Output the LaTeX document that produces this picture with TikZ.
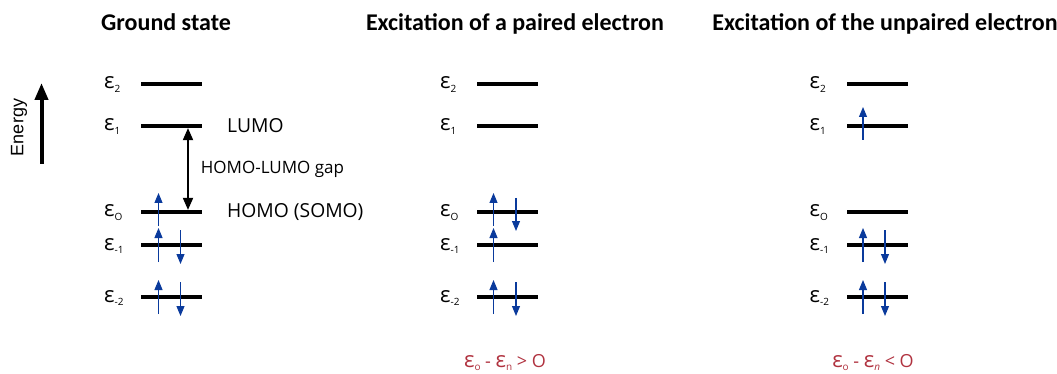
\documentclass[tikz,border=0pt]{standalone}
\usepackage{fontspec}
\setmainfont{Open Sans}
\newfontfamily\titlefont{Carlito}
\newfontfamily\axisfont{Liberation Sans}
\usetikzlibrary{arrows.meta}
\definecolor{spin-blue}{HTML}{0A3A9C}
\definecolor{gap-red}{HTML}{B0323F}
\newcommand{\eplabel}[1]{{\fontsize{22}{22}\selectfont ε}\raisebox{-3.5pt}{\fontsize{10}{10}\selectfont #1}}

\begin{document}
\begin{tikzpicture}[x=1pt, y=-1pt,
      every node/.style={inner sep=0pt},
      level/.style={fill=black, minimum width=61pt, minimum height=3.8pt},
      eps/.style={anchor=base west},
      title/.style={anchor=base, font=\titlefont\bfseries\fontsize{24}{24}\selectfont},
      spinup/.style={spin-blue, line width=1.1pt,
          -{Triangle[width=8pt,length=10pt]}},
      spindown/.style={spinup}]
    \useasboundingbox (0,0) rectangle (1057,374);

    % titles
    \node[title] (T1) at (166,31) {Ground state};
    \node[title] (T2) at (515,31) {Excitation of a paired electron};
    \node[title] (T3) at (885,31) {Excitation of the unpaired electron};

    % energy axis
    \coordinate (Elo) at (41.5,164);
    \coordinate (Ehi) at (41.5,83);
    \draw[line width=4pt, -{Triangle[width=13pt,length=17pt]}] (Elo) -- (Ehi);
    \node[rotate=90, font=\axisfont\fontsize{18}{18}\selectfont] (Elab) at (19,127.5) {Energy};

    % levels of the three panels
    \foreach \p/\cx in {a/171.5, b/507.5, c/877} {
      \foreach \n/\y/\s in {2/84/2, 1/126/1, 0/212/O, m1/245/-1, m2/297/-2} {
        \node[level] (\p\n) at (\cx,\y) {};
        \node[eps] (\p\n-lab) at (\cx-67.5,\y+5) {\eplabel{\s}};
      }
    }

    % ground state
    \draw[spinup] ([xshift=-13pt,yshift=-14pt]a0.center) -- ++(0,-33);
    \draw[spinup] ([xshift=-13pt,yshift=-17pt]am1.center) -- ++(0,-34);
    \draw[spindown] ([xshift=9pt,yshift=15pt]am1.center) -- ++(0,34);
    \draw[spinup] ([xshift=-13pt,yshift=-17pt]am2.center) -- ++(0,-34);
    \draw[spindown] ([xshift=9pt,yshift=15pt]am2.center) -- ++(0,34);

    \draw[line width=1.8pt, {Triangle[width=10pt,length=12pt]}-{Triangle[width=10pt,length=12pt]}]
          (a1.south -| 188,0) -- (a0.north -| 188,0)
          node[midway, right=12pt, font=\fontsize{17}{17}\selectfont] (gaplab) {HOMO-LUMO gap};
    \node[anchor=west, font=\fontsize{19.3}{19.3}\selectfont] (lumo) at (227,126) {LUMO};
    \node[anchor=west, font=\fontsize{19.3}{19.3}\selectfont] (homo) at (227,212) {HOMO (SOMO)};

    % paired electron excited
    \draw[spinup] ([xshift=-14pt,yshift=-14pt]b0.center) -- ++(0,-33);
    \draw[spindown] ([xshift=8.5pt,yshift=14pt]b0.center) -- ++(0,33);
    \draw[spinup] ([xshift=-14pt,yshift=-17pt]bm1.center) -- ++(0,-34);
    \draw[spinup] ([xshift=-14pt,yshift=-17pt]bm2.center) -- ++(0,-34);
    \draw[spindown] ([xshift=8.5pt,yshift=15pt]bm2.center) -- ++(0,34);
    \node[anchor=base, text=gap-red, font=\fontsize{18}{18}\selectfont] (condb) at (505,367)
          {\eplabel{o} - \eplabel{n} > O};

    % unpaired electron excited
    \draw[spinup] ([xshift=-14pt,yshift=-14pt]c1.center) -- ++(0,-33);
    \draw[spinup] ([xshift=-14pt,yshift=-17pt]cm1.center) -- ++(0,-34);
    \draw[spindown] ([xshift=8pt,yshift=15pt]cm1.center) -- ++(0,34);
    \draw[spinup] ([xshift=-14pt,yshift=-17pt]cm2.center) -- ++(0,-34);
    \draw[spindown] ([xshift=8pt,yshift=15pt]cm2.center) -- ++(0,34);
    \node[anchor=base, text=gap-red, font=\fontsize{18}{18}\selectfont] (condc) at (873,367)
          {\eplabel{o} - \eplabel{\itshape n} < O};
\end{tikzpicture}
\end{document}
